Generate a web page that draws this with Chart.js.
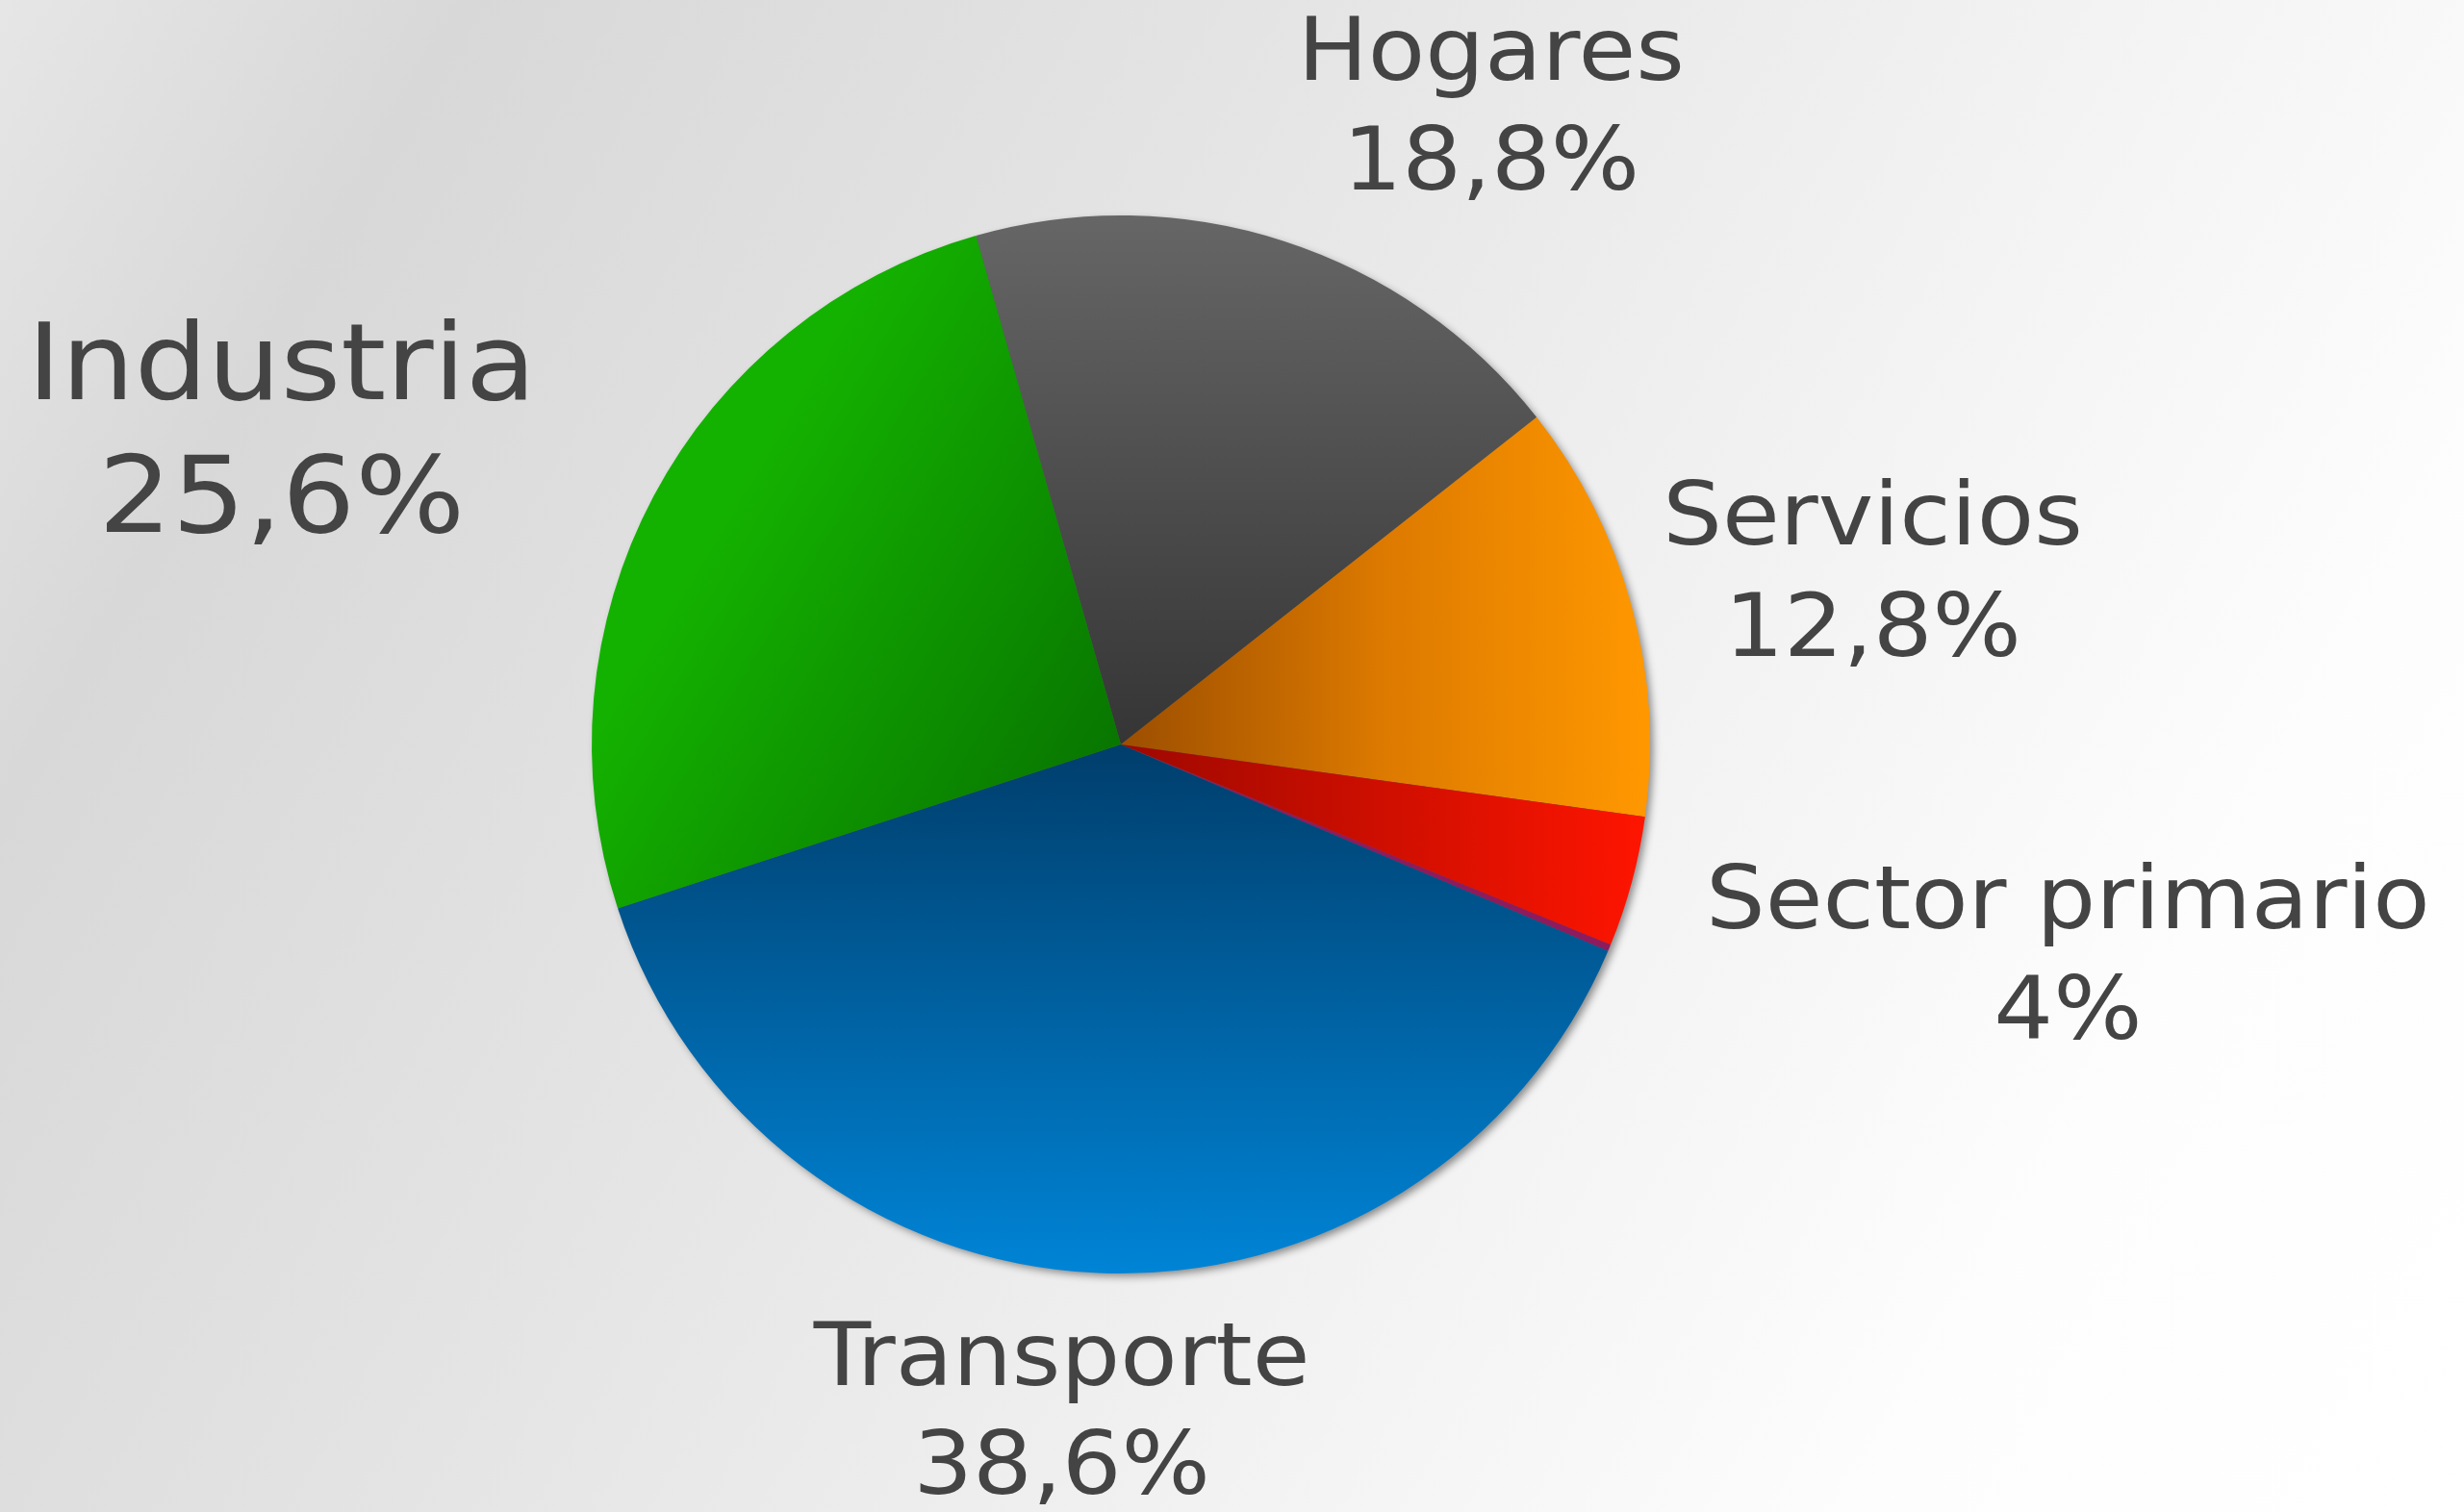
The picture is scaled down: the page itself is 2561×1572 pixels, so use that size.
<!DOCTYPE html>
<html>
<head>
<meta charset="utf-8">
<script src="https://cdn.jsdelivr.net/npm/chart.js@4"></script>
<style>
  html, body { margin: 0; padding: 0; }
  body {
    width: 2561px; height: 1572px; overflow: hidden;
    background: linear-gradient(120deg, #e6e6e6 0%, #d8d8d8 14%, #e4e4e4 38%, #f2f2f2 62%, #fdfdfd 82%, #ffffff 100%);
  }
  #wrap { position: relative; width: 2561px; height: 1572px; }
</style>
</head>
<body>
<div id="wrap"><canvas id="myChart"></canvas></div>
<script>
// ---------------- datos ----------------
var categorias = ['Hogares', 'Servicios', 'Sector primario', 'Otros', 'Transporte', 'Industria'];
var porcentajes = [18.8, 12.8, 4, 0.2, 38.6, 25.6];

// degradado de cada sector: punto inicial/final en radios desde el centro + colores
var sombreado = [
    { p0: [0, -1], p1: [0, 0], stops: ['#666666', '#353535'] },
    { p0: [0, 0], p1: [1, 0], stops: ['#9c4e00', '#dd7a00', '#ff9800'] },
    { p0: [0, 0], p1: [1, 0], stops: ['#9e0800', '#ff1500'] },
    { p0: [0, 0], p1: [1, 0], stops: ['#8e1b5d', '#8e1b5d'] },
    { p0: [0, 0], p1: [0, 1], stops: ['#003e6c', '#0084d6'] },
    { p0: [-0.75, -0.45], p1: [0, 0], stops: ['#14b200', '#087600'] }
];

// colocación de etiquetas: [desvío angular en grados, distancia en radios, tamaño fuente, interlínea]
var etiquetas = [
    [13.3, 1.349, 90, 114],
    [4.3, 1.447, 90, 116],
    [-0.9, 1.846, 90, 115],
    null,
    [2.4, 1.318, 90, 113],
    [-9.65, 1.671, 111, 138]
];
var estiramiento = 1.08; // la fuente original es más ancha

function colorSector(c) {
    var chart = c.chart;
    var area = chart.chartArea;
    var s = sombreado[c.dataIndex];
    if (!area) return s.stops[s.stops.length - 1];
    var cx = (area.left + area.right) / 2;
    var cy = (area.top + area.bottom) / 2;
    var r = Math.min(area.right - area.left, area.bottom - area.top) / 2;
    var g = chart.ctx.createLinearGradient(cx + s.p0[0] * r, cy + s.p0[1] * r, cx + s.p1[0] * r, cy + s.p1[1] * r);
    for (var i = 0; i < s.stops.length; i++) {
        g.addColorStop(i / (s.stops.length - 1), s.stops[i]);
    }
    return g;
}

// sombra bajo la tarta
var sombraPlugin = {
    id: 'sombra',
    beforeDatasetsDraw: function (chart) {
        var arc = chart.getDatasetMeta(0).data[0];
        if (!arc) return;
        var ctx = chart.ctx;
        ctx.save();
        ctx.shadowColor = 'rgba(0,0,0,0.45)';
        ctx.shadowBlur = 9;
        ctx.shadowOffsetX = 4;
        ctx.shadowOffsetY = 4;
        ctx.beginPath();
        ctx.arc(arc.x, arc.y, arc.outerRadius - 1, 0, Math.PI * 2);
        ctx.fillStyle = '#555555';
        ctx.fill();
        ctx.restore();
    }
};

// etiquetas nombre + porcentaje
var etiquetasPlugin = {
    id: 'etiquetas',
    afterDatasetsDraw: function (chart) {
        var ctx = chart.ctx;
        var arcs = chart.getDatasetMeta(0).data;
        arcs.forEach(function (arc, i) {
            var e = etiquetas[i];
            if (!e) return;
            var a = (arc.startAngle + arc.endAngle) / 2 + e[0] * Math.PI / 180;
            var x = arc.x + Math.cos(a) * arc.outerRadius * e[1];
            var y = arc.y + Math.sin(a) * arc.outerRadius * e[1];
            ctx.save();
            ctx.translate(x, y);
            ctx.scale(estiramiento, 1);
            ctx.fillStyle = '#444444';
            ctx.textAlign = 'center';
            ctx.textBaseline = 'alphabetic';
            ctx.font = e[2] + 'px "DejaVu Sans"';
            ctx.fillText(categorias[i], 0, -e[3] / 2);
            ctx.fillText(String(porcentajes[i]).replace('.', ',') + '%', 0, e[3] / 2);
            ctx.restore();
        });
    }
};

var ctx = document.getElementById('myChart').getContext('2d');
var myChart = new Chart(ctx, {
    type: 'pie',
    data: {
        labels: categorias,
        datasets: [{
            data: porcentajes,
            backgroundColor: colorSector,
            borderWidth: 0,
            hoverBorderWidth: 0,
            hoverOffset: 0
        }]
    },
    options: {
        responsive: true,
        maintainAspectRatio: false,
        animation: false,
        rotation: -15.9,
        layout: { padding: { left: 615, right: 846, top: 224, bottom: 248 } },
        plugins: {
            legend: { display: false },
            tooltip: { enabled: false }
        }
    },
    plugins: [sombraPlugin, etiquetasPlugin]
});
</script>
</body>
</html>
